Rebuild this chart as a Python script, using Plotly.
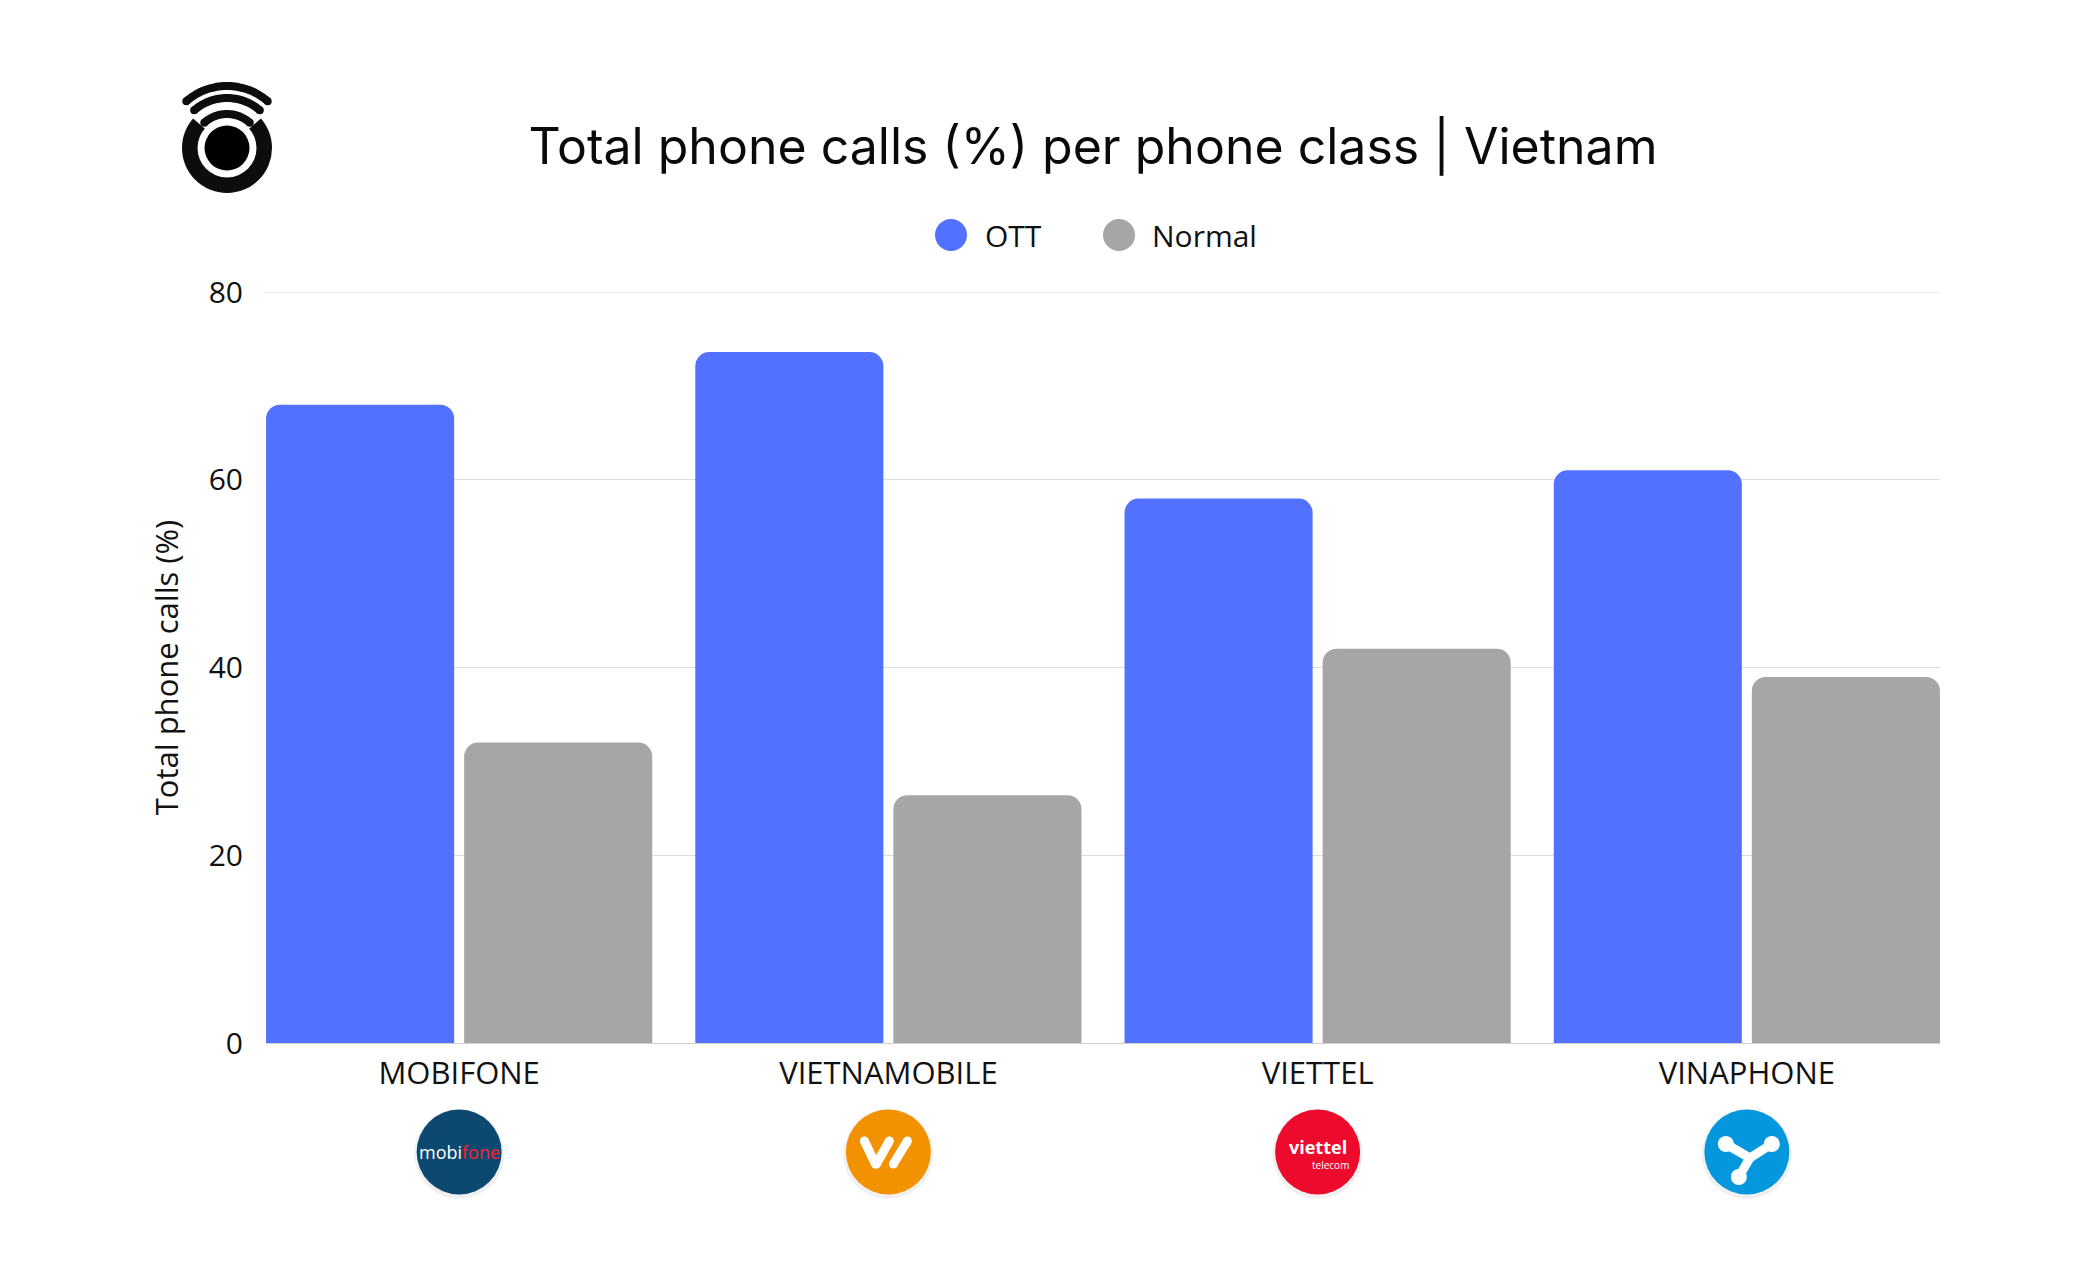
import numpy as np
import plotly.graph_objects as go

# ---------------- data ----------------
categories = ["MOBIFONE", "VIETNAMOBILE", "VIETTEL", "VINAPHONE"]
ott_values = [68.0, 73.6, 58.0, 61.0]
normal_values = [32.0, 26.4, 42.0, 39.0]
y_tick_values = [0, 20, 40, 60, 80]
series_names = ["OTT", "Normal"]
series_colors = ["#5271FF", "#A6A6A6"]
title_text = "Total phone calls (%) per phone class | Vietnam"
y_title_text = "Total phone calls (%)"
logo_colors = ["#0C4870", "#F39200", "#EC0B2D", "#0497DD"]

# ---------------- geometry ----------------
W, H = 2079, 1262
L, R, T, B = 266, 139, 292, 219
PW, PH = W - L - R, H - T - B
FONT = "Open Sans"
GRID = "#dcdcdc"


def px2x(px):
    return (px - L) / PW


def py2y(py):
    return (T + PH - py) / PH


fig = go.Figure()
fig.add_bar(x=categories, y=ott_values, name=series_names[0],
            marker=dict(color=series_colors[0], line=dict(width=0)))
fig.add_bar(x=categories, y=normal_values, name=series_names[1],
            marker=dict(color=series_colors[1], line=dict(width=0)))

shapes = []
annotations = []

# top gridline (at the range edge plotly skips it)
shapes.append(dict(type="line", xref="paper", yref="y", x0=0, x1=1,
                   y0=y_tick_values[-1], y1=y_tick_values[-1],
                   line=dict(color=GRID, width=1), layer="below"))


def pcircle(xref, yref, xa, ya, r, color, layer="above"):
    return dict(type="circle", xref=xref, yref=yref, xsizemode="pixel", ysizemode="pixel",
                xanchor=xa, yanchor=ya, x0=-r, x1=r, y0=-r, y1=r,
                fillcolor=color, line=dict(width=0), layer=layer)


def ppath(xref, yref, xa, ya, d, fill=None, line_color=None, lw=0):
    s = dict(type="path", xref=xref, yref=yref, xsizemode="pixel", ysizemode="pixel",
             xanchor=xa, yanchor=ya, path=d, layer="above")
    if fill:
        s["fillcolor"] = fill
    s["line"] = dict(width=lw, color=line_color if line_color else "rgba(0,0,0,0)")
    return s


def arc_pts(r, a0, a1, n=40):
    a = np.radians(np.linspace(a0, a1, n))
    return r * np.cos(a), r * np.sin(a)


# ---------------- legend (manual, large circles) ----------------
leg_y = py2y(235)
for name, col, cx, tx in zip(series_names, series_colors, [951, 1119], [983, 1150]):
    shapes.append(pcircle("paper", "paper", px2x(cx), leg_y, 16, col))
    annotations.append(dict(text=name, xref="paper", yref="paper", x=px2x(tx), y=leg_y,
                            xanchor="left", yanchor="middle", showarrow=False,
                            font=dict(family=FONT, size=30, color="#111111")))

# ---------------- top-left logo ----------------
lx, ly = px2x(227), py2y(148)
shapes.append(pcircle("paper", "paper", lx, ly, 45, "#0d0d0d"))
xs, ys = arc_pts(48, 90 - 49, 90 + 49)
d = "M 0,0 " + " ".join(f"L {x:.1f},{y:.1f}" for x, y in zip(xs, ys)) + " Z"
shapes.append(ppath("paper", "paper", lx, ly, d, fill="white"))
shapes.append(pcircle("paper", "paper", lx, ly, 29.5, "white"))
shapes.append(pcircle("paper", "paper", lx, ly, 22.5, "#000000"))
for r, half in [(34, 42), (50, 41), (62, 41)]:
    xs, ys = arc_pts(r, 90 - half, 90 + half)
    d = f"M {xs[0]:.1f},{ys[0]:.1f} " + " ".join(f"L {x:.1f},{y:.1f}" for x, y in zip(xs[1:], ys[1:]))
    shapes.append(ppath("paper", "paper", lx, ly, d, line_color="#0d0d0d", lw=8))
    for ex, ey in [(xs[0], ys[0]), (xs[-1], ys[-1])]:
        shapes.append(dict(type="circle", xref="paper", yref="paper", xsizemode="pixel",
                           ysizemode="pixel", xanchor=lx, yanchor=ly,
                           x0=ex - 4, x1=ex + 4, y0=ey - 4, y1=ey + 4,
                           fillcolor="#0d0d0d", line=dict(width=0)))

# ---------------- operator logos under the x labels ----------------
logo_y = py2y(1152)
for i, col in enumerate(logo_colors):
    shapes.append(dict(type="circle", xref="x", yref="paper", xsizemode="pixel", ysizemode="pixel",
                       xanchor=i, yanchor=logo_y, x0=-45, x1=45, y0=-47, y1=43,
                       fillcolor="rgba(0,0,0,0.06)", line=dict(width=0)))
    shapes.append(pcircle("x", "paper", i, logo_y, 42.5, col))

# mobifone wordmark
annotations.append(dict(text="mobi<span style='color:#FF1F2D'>fone</span>", xref="x", yref="paper",
                        x=0, y=logo_y, xanchor="center", yanchor="middle", showarrow=False,
                        font=dict(family=FONT, size=18, color="white")))
# vietnamobile strokes
for seg in [((-24, 11), (-13, -12)), ((-12, -12), (1, 11)), ((5, -12), (19, 11))]:
    (x0, y0), (x1, y1) = seg
    shapes.append(ppath("x", "paper", 1, logo_y, f"M {x0},{y0} L {x1},{y1}", line_color="white", lw=9))
    for ex, ey in seg:
        shapes.append(dict(type="circle", xref="x", yref="paper", xsizemode="pixel",
                           ysizemode="pixel", xanchor=1, yanchor=logo_y,
                           x0=ex - 4.5, x1=ex + 4.5, y0=ey - 4.5, y1=ey + 4.5,
                           fillcolor="white", line=dict(width=0)))
# viettel wordmark
annotations.append(dict(text="<b>viettel</b>", xref="x", yref="paper", x=2, y=py2y(1147),
                        xanchor="center", yanchor="middle", showarrow=False,
                        font=dict(family=FONT, size=18, color="white")))
annotations.append(dict(text="telecom", xref="x", yref="paper", x=2, y=py2y(1165),
                        xanchor="center", yanchor="middle", xshift=13, showarrow=False,
                        font=dict(family=FONT, size=10, color="white")))
# vinaphone mark
vp = [(-21, 8), (25, 8), (-8, -25)]
junction = (3, -6)
for (ex, ey) in vp:
    shapes.append(ppath("x", "paper", 3, logo_y, f"M {ex},{ey} L {junction[0]},{junction[1]}",
                        line_color="white", lw=9))
    shapes.append(dict(type="circle", xref="x", yref="paper", xsizemode="pixel",
                       ysizemode="pixel", xanchor=3, yanchor=logo_y,
                       x0=ex - 8, x1=ex + 8, y0=ey - 8, y1=ey + 8,
                       fillcolor="white", line=dict(width=0)))

fig.update_layout(
    width=W, height=H,
    margin=dict(l=L, r=R, t=T, b=B, autoexpand=False),
    paper_bgcolor="white", plot_bgcolor="white",
    barmode="group", bargap=0.077, bargroupgap=0.0505, barcornerradius=14,
    showlegend=False,
    title=dict(text=title_text, xref="container", yref="container",
               x=1093 / W, y=1 - 146 / H, xanchor="center", yanchor="middle",
               font=dict(family="Inter", size=50, color="#0a0a0a")),
    font=dict(family=FONT, color="#111111"),
    shapes=shapes,
    annotations=annotations,
)
fig.update_xaxes(type="category", range=[-0.45, 3.45], showgrid=False,
                 showline=True, linecolor="#d0d0d0", linewidth=1,
                 ticks="", tickfont=dict(family=FONT, size=31, color="#111111"),
                 ticklabelstandoff=3, automargin=False)
fig.update_yaxes(range=[0, 80], tickvals=y_tick_values, showgrid=True,
                 gridcolor=GRID, gridwidth=1, zeroline=False, showline=False,
                 ticks="", tickfont=dict(family=FONT, size=30, color="#111111"),
                 ticklabelstandoff=22, automargin=False,
                 title=dict(text=y_title_text, standoff=20,
                            font=dict(family=FONT, size=31, color="#111111")))

fig.write_html("out.html", config={"displayModeBar": False},
               post_script="document.body.style.margin='0';")
